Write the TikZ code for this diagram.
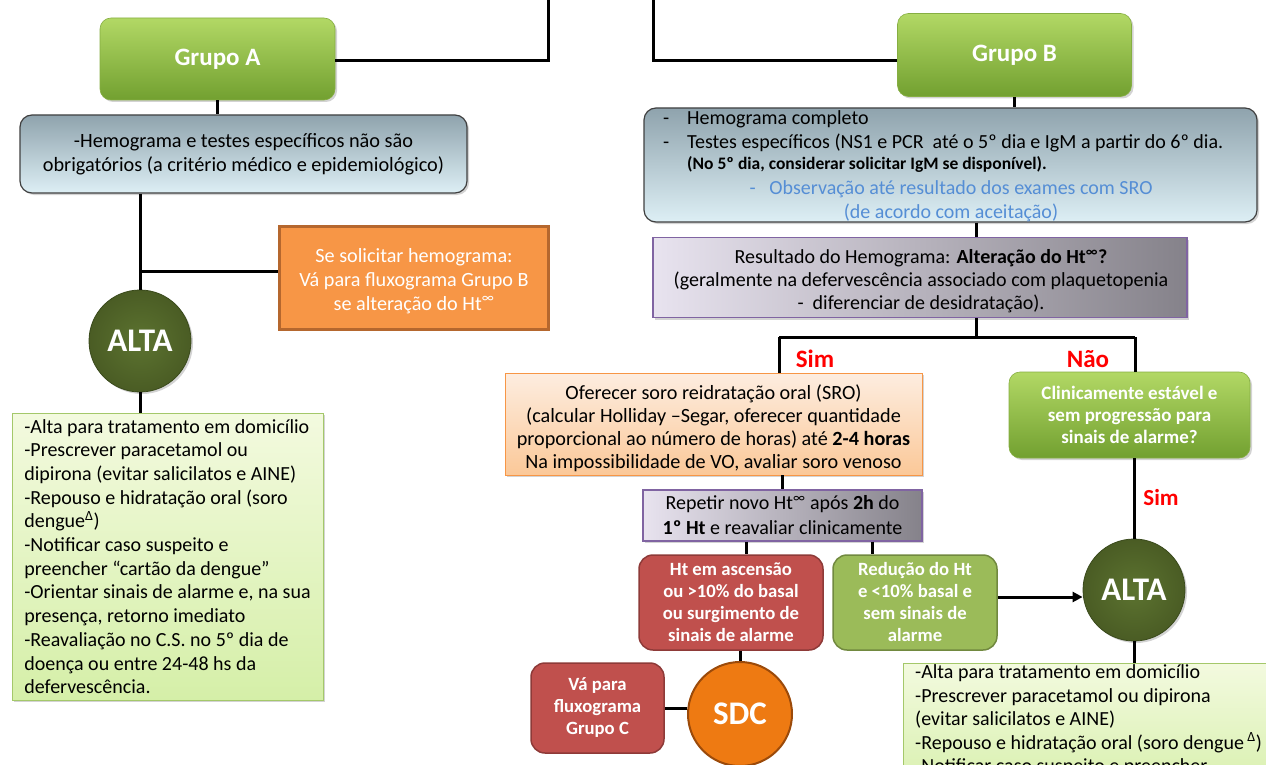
\documentclass[tikz,border=0pt]{standalone}
\usepackage{fontspec}
\setmainfont{Carlito}
\usetikzlibrary{shadows,arrows.meta,calc}
\newcommand\fsz[2]{\fontsize{#1}{#2}\selectfont}
\definecolor{grpTop}{HTML}{B2D865}
\definecolor{grpBot}{HTML}{72A030}
\definecolor{grpBd}{HTML}{86AE42}
\definecolor{blueTop}{HTML}{8FA3AD}
\definecolor{blueBot}{HTML}{DDEFF5}
\definecolor{blueBd}{HTML}{404040}
\definecolor{purL}{HTML}{E8E3EF}
\definecolor{purR}{HTML}{85828A}
\definecolor{purBd}{HTML}{8064A2}
\definecolor{orFill}{HTML}{F79646}
\definecolor{orBd}{HTML}{B5672E}
\definecolor{peachTop}{HTML}{FDEDE0}
\definecolor{peachBot}{HTML}{FBC898}
\definecolor{peachBd}{HTML}{F79646}
\definecolor{redFill}{HTML}{C0504D}
\definecolor{redBd}{HTML}{8E3A38}
\definecolor{gr2Fill}{HTML}{9BBB59}
\definecolor{gr2Bd}{HTML}{71893F}
\definecolor{altaIn}{HTML}{5C7330}
\definecolor{altaOut}{HTML}{4A5C24}
\definecolor{altaBd}{HTML}{3A4A1C}
\definecolor{sdcFill}{HTML}{EE7A12}
\definecolor{sdcBd}{HTML}{9B4A0A}
\definecolor{txtTop}{HTML}{F3FADF}
\definecolor{txtBot}{HTML}{D5EFA8}
\definecolor{txtBd}{HTML}{A4C86A}
\definecolor{obsBlue}{HTML}{558ED5}
\definecolor{simRed}{HTML}{FF0000}
\begin{document}
\begin{tikzpicture}[x=1pt,y=-1pt,
  conn/.style={line width=3pt, black},
  shd/.style={drop shadow={opacity=0.35, shadow xshift=2pt, shadow yshift=-2pt}},
  grp/.style={shd, rounded corners=11pt, top color=grpTop, bottom color=grpBot, draw=grpBd, line width=0.6pt, text=white, font=\fsz{25}{29}\bfseries, inner sep=0pt},
  bluebox/.style={shd, rounded corners=12pt, top color=blueTop, bottom color=blueBot, draw=blueBd, line width=1.2pt, inner sep=0pt, align=center},
  purbox/.style={shd, left color=purL, right color=purR, draw=purBd, line width=1.2pt, inner sep=0pt, align=center},
  orbox/.style={fill=orFill, draw=orBd, line width=3pt, text=white, inner sep=0pt, align=center},
  peachbox/.style={shd, top color=peachTop, bottom color=peachBot, draw=peachBd, line width=0.8pt, inner sep=0pt, align=center},
  redbox/.style={rounded corners=14pt, fill=redFill, draw=redBd, line width=1.5pt, text=white, inner sep=0pt, align=center, font=\fsz{18.7}{22}\bfseries},
  gr2box/.style={rounded corners=14pt, fill=gr2Fill, draw=gr2Bd, line width=1.5pt, text=white, inner sep=0pt, align=center, font=\fsz{18.7}{22}\bfseries},
  altac/.style={circle, shd, inner color=altaIn, outer color=altaOut, draw=altaBd, line width=0.8pt, text=white, font=\fsz{33}{36}\bfseries, minimum size=102pt, inner sep=0pt},
  sdcc/.style={circle, fill=sdcFill, draw=sdcBd, line width=2pt, text=white, font=\fsz{33}{36}\bfseries, minimum size=104pt, inner sep=0pt},
  txtbox/.style={shd, top color=txtTop, bottom color=txtBot, draw=txtBd, line width=0.8pt, inner sep=0pt},
  plain/.style={inner sep=0pt, align=center},
  lbl/.style={text=simRed, font=\fsz{25}{28}\bfseries, inner sep=0pt}
]
\useasboundingbox (0,0) rectangle (1266,765);
\clip (0,0) rectangle (1266,765);

% ---------- top ----------
\coordinate (topL) at (548,-5);
\coordinate (topR) at (653,-5);
\coordinate (topY) at (0,61);
\node[grp, minimum width=235pt, minimum height=82pt] (grpA) at (217.5,59) {Grupo A};
\node[grp, minimum width=234pt, minimum height=83pt] (grpB) at (1014.5,55) {Grupo B};
\draw[conn] (topL) |- (grpA.east |- topY);
\draw[conn] (topR) |- (grpB.west |- topY);

% ---------- Grupo A branch ----------
\node[bluebox, minimum width=447pt, minimum height=78pt, font=\fsz{20.3}{24}] (boxA) at (243.5,154)
  {-Hemograma e testes específicos não são\\obrigatórios (a critério médico e epidemiológico)};
\draw[conn] (grpA.south) -- (grpA.south |- boxA.north);

\node[orbox, minimum width=269pt, minimum height=103pt] (orng) at (413.5,277.5) {};
\node[plain, text=white, font=\fsz{20.2}{24}] (orngT) at (414,281)
  {Se solicitar hemograma:\\Vá para fluxograma Grupo B\\se alteração do Ht\textsuperscript{∞}};
\node[altac] (altaL) at (140,341) {ALTA};
\draw[conn] (boxA.south -| altaL.north) -- (altaL.north);
\draw[conn] (altaL.north |- {$(orng.west)+(0,-6)$}) -- ($(orng.west)+(0,-6)$);

\node[txtbox, minimum width=311pt, minimum height=287pt, align=left, font=\fsz{20}{23.7}] (txtL) at (167.5,556.5)
  {-Alta para tratamento em domicílio\\
   -Prescrever paracetamol ou\\
   dipirona (evitar salicilatos e AINE)\\
   -Repouso e hidratação oral (soro\\
   dengue\textsuperscript{Δ})\\
   -Notificar caso suspeito e\\
   preencher “cartão da dengue”\\
   -Orientar sinais de alarme e, na sua\\
   presença, retorno imediato\\
   -Reavaliação no C.S. no 5º dia de\\
   doença ou entre 24-48 hs da\\
   defervescência.};
\draw[conn] (altaL.south) -- (altaL.south |- txtL.north);

% ---------- Grupo B branch ----------
\node[bluebox, minimum width=613pt, minimum height=114pt] (boxB) at (950.5,165) {};
\node[anchor=north west, align=left, inner sep=0pt, font=\fsz{20}{24}] (boxBt) at (663,110.5)
  {\makebox[24pt][l]{-}Hemograma completo\\
   \makebox[24pt][l]{-}Testes específicos (NS1 e PCR\ \ até o 5º dia e IgM a partir do 6º dia.\\[-3pt]
   \hspace*{24pt}{\fsz{17.5}{20}\bfseries (No 5º dia, considerar solicitar IgM se disponível).}};
\node[plain, text=obsBlue, font=\fsz{20}{24}] (boxBobs) at (951,201)
  {\makebox[20pt][l]{-}Observação até resultado dos exames com SRO\\(de acordo com aceitação)};
\draw[conn] (grpB.south) -- (grpB.south |- boxB.north);

\coordinate (split) at (976,337);
\coordinate (xL) at (779,337);
\coordinate (xR) at (1135,337);
\node[purbox, minimum width=534pt, minimum height=80pt] (res) at (920,277.5) {};
\node[plain, font=\fsz{20}{23}] (resT) at (921,281.5)
  {Resultado do Hemograma: \textbf{Alteração do Ht\textsuperscript{∞}?}\\
   (geralmente na defervescência associado com plaquetopenia\\
   -\ \ diferenciar de desidratação).};
\draw[conn] (boxB.south -| split) -- (res.north -| split);
\draw[conn] (res.south -| split) -- (split);
\draw[conn] (xL) -- (xR);

\node[lbl] (sim1) at (815,359) {Sim};
\node[lbl] (nao) at (1088,359) {Não};

\node[peachbox, minimum width=417pt, minimum height=102pt] (sro) at (713.5,424) {};
\node[plain, font=\fsz{20.2}{23}] (sroT) at (713.5,428)
  {Oferecer soro reidratação oral (SRO)\\
   (calcular Holliday –Segar, oferecer quantidade\\
   proporcional ao número de horas) até \textbf{2-4 horas}\\
   Na impossibilidade de VO, avaliar soro venoso};
\node[grp, minimum width=241pt, minimum height=86pt, align=center, font=\fsz{19}{22}\bfseries] (clin) at (1129.5,415)
  {Clinicamente estável e\\sem progressão para\\sinais de alarme?};
\draw[conn] (xL) -- (sro.north -| xL);
\draw[conn] (xR) -- (clin.north -| xR);

\node[purbox, minimum width=279pt, minimum height=51pt, font=\fsz{20}{25}] (rep) at (782.5,515.5)
  {Repetir novo Ht\textsuperscript{∞} após \textbf{2h} do\\\textbf{1º Ht} e reavaliar clinicamente};
\draw[conn] (sro.south -| rep.north) -- (rep.north);

\coordinate (xRed) at (746,548);
\coordinate (xGrn) at (872,548);
\node[redbox, minimum width=184pt, minimum height=95pt] (red) at (731,602.5)
  {Ht em ascensão\\ou >10\% do basal\\ou surgimento de\\sinais de alarme};
\node[gr2box, minimum width=164pt, minimum height=95pt] (grn) at (915,602.5)
  {Redução do Ht\\e <10\% basal e\\sem sinais de\\alarme};
\draw[conn] (rep.south -| xRed) -- (red.north -| xRed);
\draw[conn] (rep.south -| xGrn) -- (grn.north -| xGrn);

\node[sdcc] (sdc) at (740,714) {SDC};
\node[redbox, minimum width=133pt, minimum height=90pt] (vap) at (597.5,708)
  {Vá para\\fluxograma\\Grupo C};
\draw[conn] (red.south -| sdc.north) -- (sdc.north);
\draw[conn] (vap.east) -- (vap.east -| sdc.west);

\node[altac] (altaR) at (1134,590) {ALTA};
\draw[conn] (clin.south -| altaR.north) -- (altaR.north);
\node[lbl, font=\fsz{23}{26}\bfseries] (sim2) at (1161,498) {Sim};
\coordinate (arrY) at (0,597);
\draw[conn, -{Triangle[length=10pt,width=10pt]}] (grn.east |- arrY) -- (altaR.west |- arrY);

\node[txtbox, anchor=north west, minimum width=400pt, minimum height=140pt] (txtR) at (903,663) {};
\node[anchor=north west, align=left, inner sep=0pt, font=\fsz{20}{23.5}] (txtRt) at (915,664.5)
  {-Alta para tratamento em domicílio\\
   -Prescrever paracetamol ou dipirona\\
   (evitar salicilatos e AINE)\\
   -Repouso e hidratação oral (soro dengue\,\textsuperscript{Δ})\\
   -Notificar caso suspeito e preencher};
\draw[conn] (altaR.south) -- (altaR.south |- txtR.north);
\end{tikzpicture}
\end{document}
